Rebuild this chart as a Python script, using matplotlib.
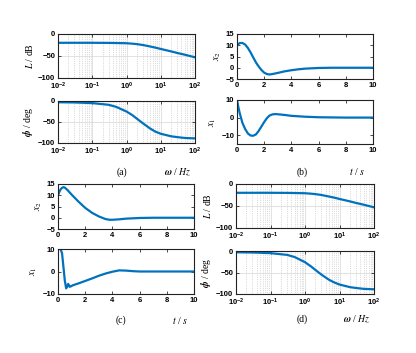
import numpy as np
import matplotlib
matplotlib.use("Agg")
import matplotlib.pyplot as plt

plt.rcParams['font.family'] = ['Liberation Sans', 'DejaVu Sans']
plt.rcParams['mathtext.fontset'] = 'stix'

# === Data ===
# Bode panels (a) and (d)
freq_a = [0.01, 0.03, 0.1, 0.3, 0.5, 1, 1.5, 2, 3, 5, 7, 10, 20, 30, 50, 100]
mag_a = [-20, -20, -20, -20.2, -20.5, -21, -22, -23, -25, -28.5, -31, -34, -39.5, -43, -47, -53]
phase_a = [-3, -3.5, -5, -9, -14, -25, -34, -42, -53, -66, -73, -78, -84, -86, -88, -89]

freq_d = [0.01, 0.03, 0.1, 0.3, 0.5, 1, 1.5, 2, 3, 5, 7, 10, 20, 30, 50, 100]
mag_d = [-20, -20, -20, -20.2, -20.5, -21, -22, -23, -25, -28.5, -31, -34, -39.5, -43, -47, -53]
phase_d = [-3, -3.5, -5, -9, -14, -26, -36, -44, -55, -67, -73, -78, -84, -86, -88, -89]

# Time responses (b)
t_b2 = [0, 0.2, 0.4, 0.6, 0.8, 1.0, 1.2, 1.4, 1.6, 1.8, 2.0, 2.2, 2.4, 2.6, 3.0, 3.5, 4.0, 4.5, 5.0, 6.0, 7.0, 8.0, 10.0]
x2_b = [10, 11, 11, 10.3, 8.8, 6.8, 4.5, 2.3, 0.5, -1, -2.2, -2.8, -3, -2.8, -2.3, -1.6, -1.1, -0.7, -0.4, -0.1, 0, 0, 0]
t_b1 = [0, 0.1, 0.2, 0.4, 0.6, 0.8, 1.0, 1.2, 1.4, 1.6, 1.8, 2.0, 2.2, 2.4, 2.6, 2.8, 3.0, 3.5, 4.0, 5.0, 6.0, 8.0, 10.0]
x1_b = [10, 6, 2.5, -3, -6.5, -9, -10.2, -10.3, -9.5, -7.5, -5, -2.5, -0.3, 1.2, 1.8, 2.0, 1.9, 1.5, 1.0, 0.5, 0.2, 0, 0]

# Time responses (c)
t_c2 = [0, 0.1, 0.2, 0.3, 0.4, 0.5, 0.7, 1.0, 1.5, 2.0, 2.5, 3.0, 3.5, 3.8, 4.0, 4.5, 5.0, 6.0, 7.0, 10.0]
x2_c = [10, 11.5, 12.7, 13.3, 13.6, 13.4, 12.3, 10.3, 7.2, 4.4, 2.2, 0.6, -0.6, -0.9, -0.9, -0.7, -0.4, -0.1, 0, 0]
t_c1 = [0, 0.1, 0.2, 0.3, 0.4, 0.5, 0.6, 0.68, 0.75, 0.85, 0.95, 1.1, 1.5, 2.0, 2.5, 3.0, 3.5, 4.0, 4.5, 5.0, 5.5, 6.0, 10.0]
x1_c = [10, 10, 9.8, 8, 2, -4, -7.5, -6.5, -5.5, -6.8, -6.6, -6.1, -5.3, -4.2, -3.1, -1.9, -0.9, -0.1, 0.5, 0.4, 0.15, 0, 0]

BLUE = '#0072BD'
W, H = 416, 353
fig = plt.figure(figsize=(W / 100, H / 100), dpi=100)


def add_ax(x0, x1, y0, y1):
    return fig.add_axes([x0 / W, 1 - y1 / H, (x1 - x0) / W, (y1 - y0) / H])


def style(ax):
    ax.tick_params(direction='in', length=2, width=0.5, labelsize=5.5, pad=2,
                   top=True, right=True, which='both')
    ax.tick_params(which='minor', length=1)
    for lbl in ax.get_xticklabels() + ax.get_yticklabels():
        lbl.set_fontweight('bold')
    for s in ax.spines.values():
        s.set_linewidth(0.8)
        s.set_color('#222222')


def ylab(ax, text):
    ax.set_ylabel(text, fontsize=7, family='Liberation Serif', labelpad=2)


def bode(top, bot, f, mag, ph):
    top.plot(f, mag, color=BLUE, lw=1.6)
    top.set_ylim(-100, 0)
    top.set_yticks([-100, -50, 0])
    ylab(top, r'$L$ / dB')
    bot.plot(f, ph, color=BLUE, lw=1.6)
    bot.set_ylim(-100, 0)
    bot.set_yticks([-100, -50, 0])
    ylab(bot, r'$\boldsymbol{\phi}$ / deg')
    for ax in (top, bot):
        ax.set_xscale('log')
        ax.set_xlim(1e-2, 1e2)
        ax.set_xticks([1e-2, 1e-1, 1e0, 1e1, 1e2])
        ax.grid(True, which='major', color='#dddddd', linewidth=0.6)
        ax.grid(True, which='minor', color='#bbbbbb', linestyle=':', linewidth=0.5)
        ax.set_axisbelow(True)
        style(ax)
        ax.tick_params(which='minor', top=False, bottom=False)


def timeplot(ax, t, x, ylim, yticks, label):
    ax.plot(t, x, color=BLUE, lw=1.6)
    ax.set_xlim(0, 10)
    ax.set_xticks([0, 2, 4, 6, 8, 10])
    ax.set_ylim(*ylim)
    ax.set_yticks(yticks)
    style(ax)
    ylab(ax, label)


# (a)
a_top = add_ax(58, 195, 34, 78)
a_bot = add_ax(58, 195, 101, 143)
bode(a_top, a_bot, freq_a, mag_a, phase_a)

# (b)
b_top = add_ax(237, 373, 34, 79)
b_bot = add_ax(237, 373, 100, 144)
timeplot(b_top, t_b2, x2_b, (-5, 15), [-5, 0, 5, 10, 15], r'$x_2$')
timeplot(b_bot, t_b1, x1_b, (-15, 10), [-10, 0, 10], r'$x_1$')

# (c)
c_top = add_ax(58, 194, 184, 229)
c_bot = add_ax(58, 194, 249, 294)
timeplot(c_top, t_c2, x2_c, (-5, 15), [-5, 0, 5, 10, 15], r'$x_2$')
timeplot(c_bot, t_c1, x1_c, (-10, 10), [-10, 0, 10], r'$x_1$')

# (d)
d_top = add_ax(236, 374, 184, 228)
d_bot = add_ax(236, 374, 251, 294)
bode(d_top, d_bot, freq_d, mag_d, phase_d)

# captions
def cap(x, y, s):
    fig.text(x / W, 1 - y / H, s, ha='center', va='center', fontsize=7,
             family='Liberation Serif')

cap(122, 172, '(a)')
cap(178, 172, r'$\boldsymbol{\omega}$ / $Hz$')
cap(302, 172, '(b)')
cap(357, 172, r'$t$ / $s$')
cap(121, 320, '(c)')
cap(180, 320, r'$t$ / $s$')
cap(302, 319, '(d)')
cap(357, 319, r'$\boldsymbol{\omega}$ / $Hz$')

fig.savefig('out.png', dpi=100)
